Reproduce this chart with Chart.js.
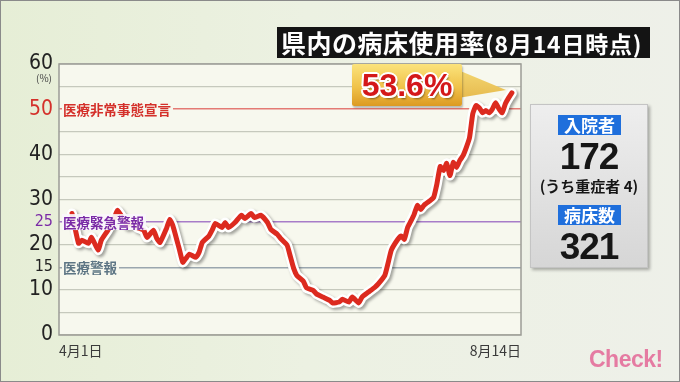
<!DOCTYPE html>
<html><head><meta charset="utf-8">
<script src="https://cdn.jsdelivr.net/npm/chart.js@4/dist/chart.umd.min.js"></script>
<style>
html,body{margin:0;padding:0;}
body{width:680px;height:382px;overflow:hidden;position:relative;background:linear-gradient(90deg,#e6eed6 0%,#ecf1e2 45%,#eef0e9 100%);font-family:"Noto Sans CJK JP",sans-serif;}
#frame{position:absolute;left:0;top:0;width:678px;height:380px;border:1px solid #8a8a8a;pointer-events:none;}
#c{position:absolute;left:0;top:0;}
#title{position:absolute;left:277px;top:27px;width:373px;height:31px;background:#141414;color:#fff;font-weight:700;white-space:nowrap;line-height:31px;padding-left:4px;box-sizing:border-box;}
#title .a{font-size:25px;letter-spacing:0.5px;}
#title .b{font-size:23px;letter-spacing:0.8px;}
#callout{position:absolute;left:352px;top:64px;width:110px;height:42px;background:linear-gradient(#fbe37c,#f0c24a 55%,#dc9a22);border-radius:2px;box-shadow:1px 2px 2px rgba(0,0,0,.25);text-align:center;line-height:42px;font-family:"Liberation Sans",Arial,sans-serif;font-weight:700;font-size:32px;color:#d4181a;text-shadow:-2px 0 #fff,2px 0 #fff,0 -2px #fff,0 2px #fff,-1.5px -1.5px #fff,1.5px 1.5px #fff,-1.5px 1.5px #fff,1.5px -1.5px #fff,2px 3px 2px rgba(0,0,0,.45);}
#tail{position:absolute;left:458px;top:64px;width:52px;height:40px;background:linear-gradient(#f6dc78,#e4b548);clip-path:polygon(0px 6px,48px 26px,0px 34px);}
#panel{position:absolute;left:530px;top:104px;width:118px;height:164px;background:linear-gradient(#eeeeee,#d6d6d6);border:1px solid #c4c4c4;box-sizing:border-box;box-shadow:2px 2px 3px rgba(0,0,0,.3);}
.tag{position:absolute;left:27px;width:63px;height:20px;background:#1f6fdc;color:#fff;font-weight:700;font-size:17px;line-height:20px;text-align:center;}
.num{position:absolute;left:0;width:116px;text-align:center;font-family:"Liberation Sans",Arial,sans-serif;font-weight:700;font-size:37px;letter-spacing:-1px;color:#161616;}
#sub{position:absolute;left:0;width:116px;top:72px;text-align:center;font-weight:700;font-size:15px;line-height:18px;color:#161616;white-space:nowrap;}
#check{position:absolute;left:589px;top:346px;font-family:"Liberation Sans",Arial,sans-serif;font-weight:700;font-size:23px;letter-spacing:-0.5px;color:#e57ba2;}
</style></head>
<body>
<canvas id="c" width="680" height="382"></canvas>
<div id="title"><span class="a">県内の病床使用率</span><span class="b">(8月14日時点)</span></div>
<div id="tail"></div>
<div id="callout">53.6%</div>
<div id="panel">
  <div class="tag" style="top:10px">入院者</div>
  <div class="num" style="top:34px;line-height:36px">172</div>
  <div id="sub">(うち重症者 4)</div>
  <div class="tag" style="top:100px">病床数</div>
  <div class="num" style="top:124px;line-height:36px">321</div>
</div>
<div id="check">Check!</div>
<div id="frame"></div>
<script>
// days since April 1 (0 = 4月1日, 135 = 8月14日)
const days = [0,2,3,5,6,8,9,11,13,14,16,17,19,20,22,23,25,26,27,29,30,31,33,34,35,36,38,39,40,42,43,44,46,47,48,50,52,53,55,56,58,60,61,63,64,66,67,68,69,71,72,74,75,77,79,80,82,83,85,86,88,89,91,93,94,96,97,98,100,101,102,103,104,105,106,107,108,110,111,112,113,114,115,116,117,118,119,120,121,122,123,124,125,126,127,128,129,130,131,132,133,134,135];
// bed occupancy rate (%)
const rates = [26.9,20.3,21.0,20.3,21.6,18.8,21.0,23.2,26.0,27.6,25.4,24.3,24.9,23.8,23.2,21.6,23.2,21.4,20.5,23.6,25.6,24.1,18.8,16.1,17.0,17.9,17.2,18.3,20.5,21.9,23.2,24.7,23.8,24.9,23.8,24.9,26.5,25.8,26.9,26.0,26.5,24.9,23.4,22.3,21.4,19.9,17.4,14.8,13.2,11.9,10.4,9.9,9.1,8.4,7.7,7.1,7.3,7.9,7.3,8.4,7.1,8.4,9.5,10.6,11.3,13.2,15.9,18.8,21.2,21.9,21.2,23.8,25.2,26.7,28.7,27.8,28.7,29.8,30.5,33.5,37.3,36.4,38.0,35.3,38.2,37.1,38.6,39.7,41.5,43.7,49.0,50.8,50.3,49.2,49.7,49.2,50.0,51.4,50.1,49.2,51.2,52.5,53.6];
const yTicks = [0,5,10,15,20,25,30,35,40,45,50,55,60];
const yLabelled = [0,10,15,20,25,30,40,50,60];
const xLabels = ['4月1日','8月14日'];
const refValues = [50,25,15];
const refNames = ['医療非常事態宣言','医療緊急警報','医療警報'];
const refColors = ['#d4302a','#7a2aa6','#5d7584'];
const refGrid = ['#e47a74','#a77cc8','#9aa6ae'];

const points = days.map((d,i)=>({x:d,y:rates[i]}));
const NARROW = '"Liberation Sans Narrow","DejaVu Sans Condensed","Liberation Sans",sans-serif';

const deco = {
  id:'deco',
  beforeDraw(chart){
    const {ctx, chartArea:a} = chart;
    ctx.save();
    ctx.fillStyle = '#f7f8ee';
    ctx.fillRect(a.left,a.top,a.right-a.left,a.bottom-a.top);
    ctx.restore();
  },
  beforeDatasetDraw(chart,args){
    if(args.index===1){
      chart.ctx.save();
      chart.ctx.shadowColor='rgba(0,0,0,0.35)';
      chart.ctx.shadowBlur=3;
      chart.ctx.shadowOffsetX=2;
      chart.ctx.shadowOffsetY=2;
    }
  },
  afterDatasetDraw(chart,args){
    if(args.index===1) chart.ctx.restore();
  },
  afterDatasetsDraw(chart){
    const {ctx, chartArea:a, scales:{y}} = chart;
    ctx.save();
    ctx.strokeStyle='#9c9c96'; ctx.lineWidth=1.5;
    ctx.strokeRect(a.left,a.top,a.right-a.left,a.bottom-a.top);
    ctx.textBaseline='middle';
    refValues.forEach((v,i)=>{
      const py = y.getPixelForValue(v);
      ctx.font = 'bold 13.5px "Noto Sans CJK JP"';
      const w = ctx.measureText(refNames[i]).width;
      const x0 = a.left+4;
      ctx.fillStyle = i===1 ? 'rgba(250,246,252,0.92)' : '#f7f8ee';
      ctx.fillRect(x0-1, py-8, w+3, 16);
      ctx.fillStyle = refColors[i];
      ctx.fillText(refNames[i], x0, py+0.5);
    });
    ctx.font = '10px "Noto Sans CJK JP"';
    ctx.fillStyle='#444';
    ctx.textAlign='right';
    ctx.fillText('(%)', a.left-7, y.getPixelForValue(60)+14);
    ctx.restore();
  }
};

new Chart(document.getElementById('c'),{
  type:'line',
  data:{datasets:[
    {data:points, borderColor:'#dc2a1f', borderWidth:5, pointRadius:0, tension:0.15, borderJoinStyle:'round', borderCapStyle:'round', order:0},
    {data:points, borderColor:'#ffffff', borderWidth:10, pointRadius:0, tension:0.15, borderJoinStyle:'round', borderCapStyle:'round', order:1}
  ]},
  options:{
    responsive:false, animation:false, devicePixelRatio:1,
    layout:{padding:{left:0,top:64,right:159,bottom:0}},
    plugins:{legend:{display:false},tooltip:{enabled:false}},
    scales:{
      x:{type:'linear',min:-4,max:137.8,
        afterBuildTicks:s=>{s.ticks=[{value:s.min},{value:s.max}];},
        afterFit:s=>{s.height=47;},
        grid:{display:false,drawTicks:false},border:{display:false},
        ticks:{align:'inner',padding:7,maxRotation:0,autoSkip:false,color:'#3a3a3a',
          font:{size:14,family:'"Noto Sans CJK JP"'},callback:(v,i)=>xLabels[i]}},
      y:{min:0,max:60,
        afterBuildTicks:s=>{s.ticks=yTicks.map(v=>({value:v}));},
        afterFit:s=>{s.width=59;},
        grid:{drawTicks:false,lineWidth:c=>{const k=refValues.indexOf(c.tick&&c.tick.value);return k>=0?1.4:1.2;},
          color:c=>{const k=refValues.indexOf(c.tick&&c.tick.value);return k>=0?refGrid[k]:'#c6c9bd';}},
        border:{display:false},
        ticks:{padding:6,autoSkip:false,
          color:c=>{const k=refValues.indexOf(c.tick&&c.tick.value);return k>=0&&k<2?refColors[k]:'#222222';},
          font:c=>{const v=c.tick&&c.tick.value;return {family:NARROW,weight:'normal',size:(v===25||v===15)?16:21};},
          callback:v=>yLabelled.includes(v)?String(v):''}}
    }
  },
  plugins:[deco]
});
</script>
</body></html>
